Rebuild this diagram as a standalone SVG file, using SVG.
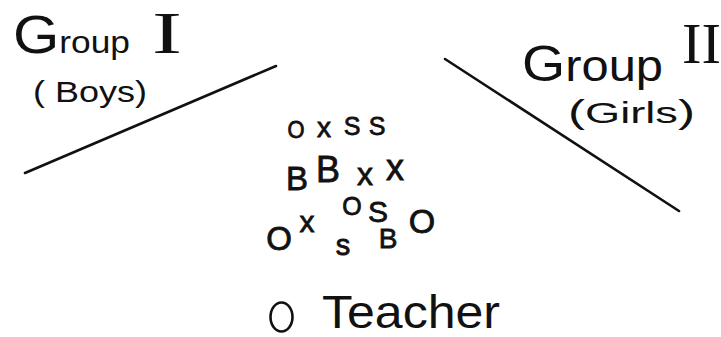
<svg xmlns="http://www.w3.org/2000/svg" width="721" height="337" viewBox="0 0 721 337">
<style>
text{font-family:"Liberation Sans","DejaVu Sans",sans-serif;fill:#111}
.srf{font-family:"Liberation Serif","DejaVu Serif",serif}
.m{text-anchor:middle}
.c{stroke:#111;stroke-width:0.8}
.ln{stroke:#111;stroke-width:2.6;stroke-linecap:round;fill:none}
</style>
<rect width="721" height="337" fill="#fff"/>
<g id="group1">
<text x="13" y="53" textLength="117" lengthAdjust="spacingAndGlyphs"><tspan font-size="54">G</tspan><tspan font-size="32">roup</tspan></text>
<text class="srf m" transform="translate(167,53) scale(1.5,1)" font-size="60">I</text>
<text x="33" y="102" font-size="30" textLength="114" lengthAdjust="spacingAndGlyphs">( Boys)</text>
<line class="ln" x1="25" y1="173" x2="276" y2="66"/>
</g>
<g id="group2">
<text x="522" y="81" textLength="141" lengthAdjust="spacingAndGlyphs"><tspan font-size="50">G</tspan><tspan font-size="44">roup</tspan></text>
<text class="srf" x="682" y="63" font-size="56" textLength="39" lengthAdjust="spacingAndGlyphs">II</text>
<text x="568" y="123" textLength="127" lengthAdjust="spacingAndGlyphs"><tspan font-size="34">(</tspan><tspan font-size="30">Girls</tspan><tspan font-size="34">)</tspan></text>
<line class="ln" x1="445" y1="59" x2="679" y2="211"/>
</g>
<g id="students" class="c">
<text class="m" x="296" y="138" font-size="23" textLength="17" lengthAdjust="spacingAndGlyphs">O</text>
<text class="m" x="324" y="137" font-size="28">x</text>
<text class="m" x="352" y="135" font-size="25">S</text>
<text class="m" x="377" y="135" font-size="25">S</text>
<text class="m" x="297" y="190" font-size="33">B</text>
<text class="m" x="328" y="182" font-size="36">B</text>
<text class="m" x="365" y="185" font-size="32">x</text>
<text class="m" x="395" y="180" font-size="36">x</text>
<text class="m" x="352" y="215" font-size="25">O</text>
<text class="m" x="378" y="222" font-size="30">S</text>
<text class="m" x="279" y="250" font-size="33">O</text>
<text class="m" x="307" y="232" font-size="30">x</text>
<text class="m" x="422" y="233" font-size="34">O</text>
<text class="m" x="343" y="255" font-size="29">s</text>
<text class="m" x="388" y="248" font-size="28">B</text>
</g>
<g id="teacher">
<ellipse class="ln" cx="281.5" cy="317" rx="11" ry="14.5"/>
<text x="322" y="328" font-size="46" textLength="178" lengthAdjust="spacingAndGlyphs">Teacher</text>
</g>
</svg>
